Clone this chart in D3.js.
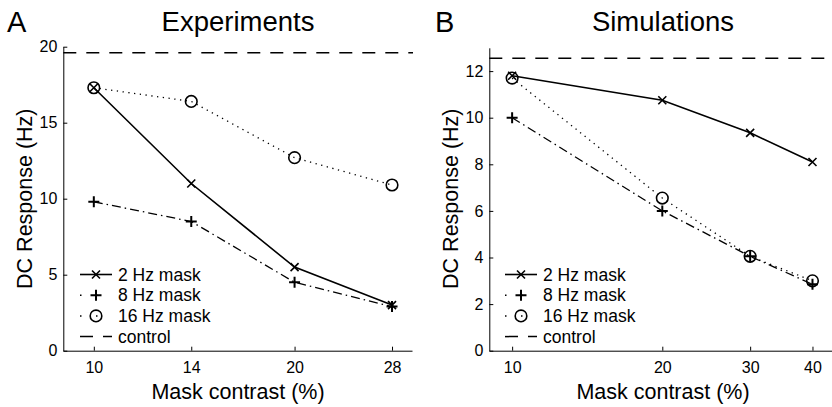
<!DOCTYPE html>
<html lang="en">
<head>
    <meta charset="UTF-8">
    <title>DC Response vs Mask contrast</title>
    <script src="https://d3js.org/d3.v7.min.js"></script>
    <style>
        body { margin: 0; background: #fff; }
        svg { font-family: "Liberation Sans", Arial, sans-serif; }
        .axis path, .axis line { stroke: #000; stroke-width: 1; }
        .axis text { font-size: 16px; fill: #000; }
    </style>
</head>
<body>
<script>
    // Panel A: experiments
    const contrastA = [10, 14, 20, 28];
    const expHz2 = [17.3, 11.0, 5.5, 3.0];
    const expHz8 = [9.8, 8.5, 4.5, 2.9];
    const expHz16 = [17.3, 16.4, 12.7, 10.9];
    const controlA = 19.6;
    const yTicksA = [0, 5, 10, 15, 20];

    // Panel B: simulations
    const contrastB = [10, 20, 30, 40];
    const simHz2 = [11.8, 10.75, 9.35, 8.1];
    const simHz8 = [10.0, 6.0, 4.05, 2.85];
    const simHz16 = [11.7, 6.55, 4.05, 3.0];
    const controlB = 12.55;
    const yTicksB = [0, 2, 4, 6, 8, 10, 12];

    const legendLabels = ["2 Hz mask", "8 Hz mask", "16 Hz mask", "control"];

    const W = 832, H = 407;
    const svg = d3.select("body").append("svg")
        .attr("width", W)
        .attr("height", H);

    // line styles: solid, dash-dot, dotted
    const styles = [
        { dash: null, legendDash: null, marker: "x" },
        { dash: "9,4,1.5,4", legendDash: "1.5,14.5", marker: "+" },
        { dash: "1.3,4.5", legendDash: "1.5,14.5", marker: "o" }
    ];
    const controlDash = "13,10";

    function drawMarker(g, type, cx, cy) {
        if (type === "x") {
            const s = 4;
            g.append("path")
                .attr("d", `M${cx - s},${cy - s}L${cx + s},${cy + s}M${cx - s},${cy + s}L${cx + s},${cy - s}`)
                .attr("stroke", "#000").attr("stroke-width", 1.6).attr("fill", "none");
        } else if (type === "+") {
            const s = 5.5;
            g.append("path")
                .attr("d", `M${cx - s},${cy}L${cx + s},${cy}M${cx},${cy - s}L${cx},${cy + s}`)
                .attr("stroke", "#000").attr("stroke-width", 2).attr("fill", "none");
        } else {
            g.append("circle")
                .attr("cx", cx).attr("cy", cy).attr("r", 5.8)
                .attr("stroke", "#000").attr("stroke-width", 1.6).attr("fill", "none");
        }
    }

    function panel(opts) {
        const g = svg.append("g");
        const x = d3.scaleLog().domain(opts.xDomain).range(opts.xRange);
        const y = d3.scaleLinear().domain(opts.yDomain).range([350.7, opts.yTop]);

        // axes
        g.append("g").attr("class", "axis")
            .attr("transform", "translate(0,350.7)")
            .call(d3.axisBottom(x).tickValues(opts.xTicks).tickFormat(d3.format("d"))
                .tickSizeInner(-4).tickSizeOuter(0).tickPadding(11));
        g.append("g").attr("class", "axis")
            .attr("transform", `translate(${opts.xRange[0]},0)`)
            .call(d3.axisLeft(y).tickValues(opts.yTicks).tickFormat(d3.format("d"))
                .tickSizeInner(-4).tickSizeOuter(0).tickPadding(6));
        g.selectAll(".axis .domain").attr("stroke-width", 1.1);

        // control line
        g.append("line")
            .attr("x1", opts.xRange[0]).attr("x2", opts.controlEnd)
            .attr("y1", y(opts.control)).attr("y2", y(opts.control))
            .attr("stroke", "#000").attr("stroke-width", 1.6)
            .attr("stroke-dasharray", controlDash);

        const line = d3.line().x(d => x(d[0])).y(d => y(d[1]));
        opts.series.forEach((vals, i) => {
            const pts = opts.xs.map((c, j) => [c, vals[j]]);
            g.append("path")
                .attr("d", line(pts))
                .attr("fill", "none")
                .attr("stroke", "#000")
                .attr("stroke-width", i === 0 ? 1.6 : 1.3)
                .attr("stroke-dasharray", styles[i].dash);
            pts.forEach(p => drawMarker(g, styles[i].marker, x(p[0]), y(p[1])));
        });

        // legend
        const lx = opts.legendX;
        legendLabels.forEach((lab, i) => {
            const ly = 274.5 + i * 20.7;
            const dash = i < 3 ? styles[i].legendDash : controlDash;
            g.append("line")
                .attr("x1", lx).attr("x2", lx + 32)
                .attr("y1", ly).attr("y2", ly)
                .attr("stroke", "#000").attr("stroke-width", i === 0 ? 1.6 : 1.5)
                .attr("stroke-dasharray", dash);
            if (i < 3) drawMarker(g, styles[i].marker, lx + 16, ly);
            g.append("text")
                .attr("x", lx + 38).attr("y", ly + 6)
                .attr("font-size", "17.5px")
                .text(lab);
        });

        // labels
        g.append("text")
            .attr("x", opts.titleX).attr("y", 31)
            .attr("text-anchor", "middle")
            .attr("font-size", "27.5px")
            .text(opts.title);
        g.append("text")
            .attr("x", opts.letterX).attr("y", 31.5)
            .attr("font-size", "29px")
            .text(opts.letter);
        g.append("text")
            .attr("x", opts.titleX).attr("y", 398.5)
            .attr("text-anchor", "middle")
            .attr("font-size", "21.5px")
            .text("Mask contrast (%)");
        g.append("text")
            .attr("transform", `translate(${opts.yLabelX},198.7) rotate(-90)`)
            .attr("text-anchor", "middle")
            .attr("font-size", "21.5px")
            .text("DC Response (Hz)");
    }

    panel({
        xDomain: [9, 30], xRange: [63.3, 412], xTicks: contrastA, xs: contrastA,
        yDomain: [0, 20], yTop: 46.7, yTicks: yTicksA,
        control: controlA, controlEnd: 413,
        series: [expHz2, expHz8, expHz16],
        legendX: 80, title: "Experiments", titleX: 238,
        letter: "A", letterX: 7, yLabelX: 31.5
    });

    panel({
        xDomain: [9, 45], xRange: [489.3, 838], xTicks: contrastB, xs: contrastB,
        yDomain: [0, 13], yTop: 47.8, yTicks: yTicksB,
        control: controlB, controlEnd: 832,
        series: [simHz2, simHz8, simHz16],
        legendX: 505, title: "Simulations", titleX: 663,
        letter: "B", letterX: 435, yLabelX: 457.5
    });
</script>
</body>
</html>
